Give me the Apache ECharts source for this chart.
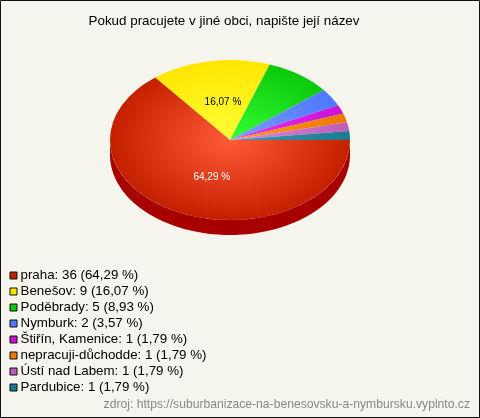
<!DOCTYPE html>
<html><head><meta charset="utf-8">
<style>html,body{margin:0;padding:0;background:#f5f5ed}#c{width:480px;height:418px}</style>
<script src="https://cdn.jsdelivr.net/npm/echarts@6/dist/echarts.min.js"></script>
</head><body><div id="c"></div>
<script>
const categories = ['praha','Benešov','Poděbrady','Nymburk','Štiřín, Kamenice','nepracuji-důchodde','Ústí nad Labem','Pardubice'];
const values = [36,9,5,2,1,1,1,1];
const swatchColors = ['#c42000','#ffe600','#0cc80c','#4d78ff','#cc10d8','#ec7800','#bc5cb8','#1c7a90'];
const innerColors = ['#ff5a38','#ffff38','#33ff33','#7d9cff','#e833f0','#ff9c20','#dc8ce0','#3c9cb4'];
const sideColors = ['#a80000','#b8a000','#088808','#3050b0','#900a98','#a05000','#804080','#105060'];
const labelTextColors = ['#ffffff','#000000'];

const FONT = '"Liberation Sans", Arial, sans-serif';
const CX = 230, CY = 140, RX = 120, RY = 80, DEPTH = 15;
const total = values.reduce((a,b)=>a+b,0);
const fmt = v => (v/total*100).toFixed(2).replace('.',',') + ' %';
const TAU = Math.PI*2;
const starts = []; let acc = 0;
values.forEach(v=>{starts.push(acc/total*TAU); acc+=v;});
const ends = values.map((v,i)=>starts[i]+v/total*TAU);

function sidePoints(i){
  const a = starts[i], b = Math.min(ends[i], Math.PI);
  if (a >= Math.PI) return null;
  const top=[], bot=[];
  for(let k=0;k<=64;k++){
    const t=a+(b-a)*k/64, x=CX+RX*Math.cos(t), y=CY+RY*Math.sin(t);
    top.push([x,y]); bot.unshift([x,y+DEPTH]);
  }
  return top.concat(bot);
}
function renderSlice(i){
  return function(){
    const children=[];
    const pts=sidePoints(i);
    if(pts) children.push({type:'polygon',shape:{points:pts},style:{fill:sideColors[i]},z2:1});
    children.push({
      type:'group',x:CX,y:CY,scaleY:RY/RX,z2:2,
      children:[{type:'sector',z2:2,
        shape:{cx:0,cy:0,r0:0,r:RX,startAngle:starts[i],endAngle:ends[i],clockwise:true},
        style:{fill:{type:'radial',x:0,y:0,r:RX,global:true,
          colorStops:[{offset:0,color:innerColors[i]},{offset:1,color:swatchColors[i]}]}}}]
    });
    if(values[i]/total>0.1){
      const m=(starts[i]+ends[i])/2;
      children.push({type:'text',z2:5,x:CX+42*Math.cos(m),y:CY+39.5*Math.sin(m)+1.5,
        style:{text:fmt(values[i]),fill:labelTextColors[i],font:'10px '+FONT,align:'center',verticalAlign:'middle'}});
    }
    return {type:'group',children};
  };
}
const series = categories.map((name,i)=>({
  type:'custom',name,coordinateSystem:'none',silent:true,animation:false,
  z: i===0?3:2,
  itemStyle:{color:swatchColors[i]},
  data:[values[i]],
  renderItem:renderSlice(i)
}));
const chart = echarts.init(document.getElementById('c'),null,{renderer:'canvas'});
chart.setOption({
  animation:false,
  backgroundColor:'#f5f5ed',
  title:{text:'Pokud pracujete v jiné obci, napište její název',left:219,textAlign:'center',top:8,
    textStyle:{fontFamily:FONT,fontSize:13.4,fontWeight:'normal',color:'#000',lineHeight:16}},
  legend:{orient:'vertical',left:9.5,top:267.5,padding:0,itemWidth:7,itemHeight:7,itemGap:0,selectedMode:false,icon:'rect',
    data:categories.map((name,i)=>({name,itemStyle:{color:swatchColors[i],borderColor:'#111',borderWidth:1}})),
    formatter:n=>{const i=categories.indexOf(n);return n+': '+values[i]+' ('+fmt(values[i])+')';},
    textStyle:{fontFamily:FONT,fontSize:13.33,color:'#000',padding:[0,0,0,-1.5],lineHeight:16}},
  graphic:[
    {type:'text',right:10,top:399,style:{text:'zdroj: https://suburbanizace-na-benesovsku-a-nymbursku.vyplnto.cz',fill:'#888',font:'12.15px '+FONT}},
    {type:'rect',silent:true,shape:{x:0.5,y:0.5,width:479,height:417},style:{fill:'none',stroke:'#111',lineWidth:1}}
  ],
  series
});
</script></body></html>
